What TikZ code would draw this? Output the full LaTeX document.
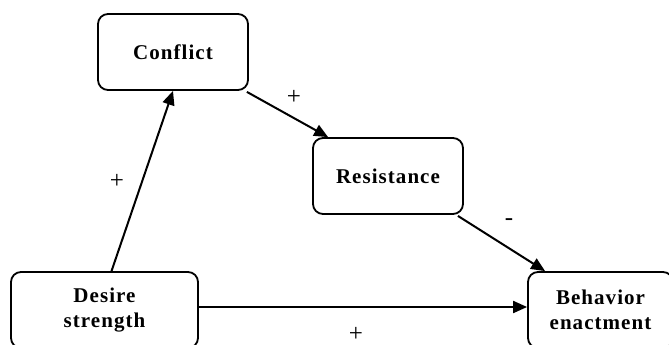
\documentclass[tikz,border=0pt]{standalone}
\usepackage{fontspec}
\setmainfont{Liberation Serif}
\newfontfamily\spacedfont[LetterSpace=5]{Liberation Serif}
\usetikzlibrary{arrows.meta}
\begin{document}
\begin{tikzpicture}[x=1pt,y=-1pt,
  box/.style={draw,line width=1.8pt,rounded corners=10pt,align=center,
    font=\spacedfont\fontsize{21}{25}\selectfont\bfseries,inner sep=0pt},
  conn/.style={line width=2pt,-{Triangle[length=14pt,width=12pt]}},
  sign/.style={font=\fontsize{25}{28}\selectfont,inner sep=0pt}]
\useasboundingbox (0,0) rectangle (669,345);
\node[box,minimum width=150pt,minimum height=76pt] (c) at (173,52) {Conflict};
\node[box,minimum width=150pt,minimum height=76pt] (r) at (388,176) {Resistance};
\node[box,minimum width=187pt,minimum height=76pt] (d) at (104.5,310) {Desire\\strength};
\node[box,minimum width=145pt,minimum height=76pt] (b) at (600.5,310) {Behavior\\enactment};
\draw[conn] ([xshift=7pt]d.north) -- (c.south);
\draw[conn] ([xshift=-2pt,yshift=-1pt]c.south east) -- ([xshift=16pt]r.north west);
\draw[conn] ([xshift=-6pt,yshift=-1pt]r.south east) -- ([xshift=18pt]b.north west);
\draw[conn] ([yshift=3pt]d.east) -- ([yshift=3pt]b.west);
\node[sign] (s1) at (117,181) {+};
\node[sign] (s2) at (294,97) {+};
\node[sign] (s3) at (509,222) {-};
\node[sign] (s4) at (356,334) {+};
\end{tikzpicture}
\end{document}
